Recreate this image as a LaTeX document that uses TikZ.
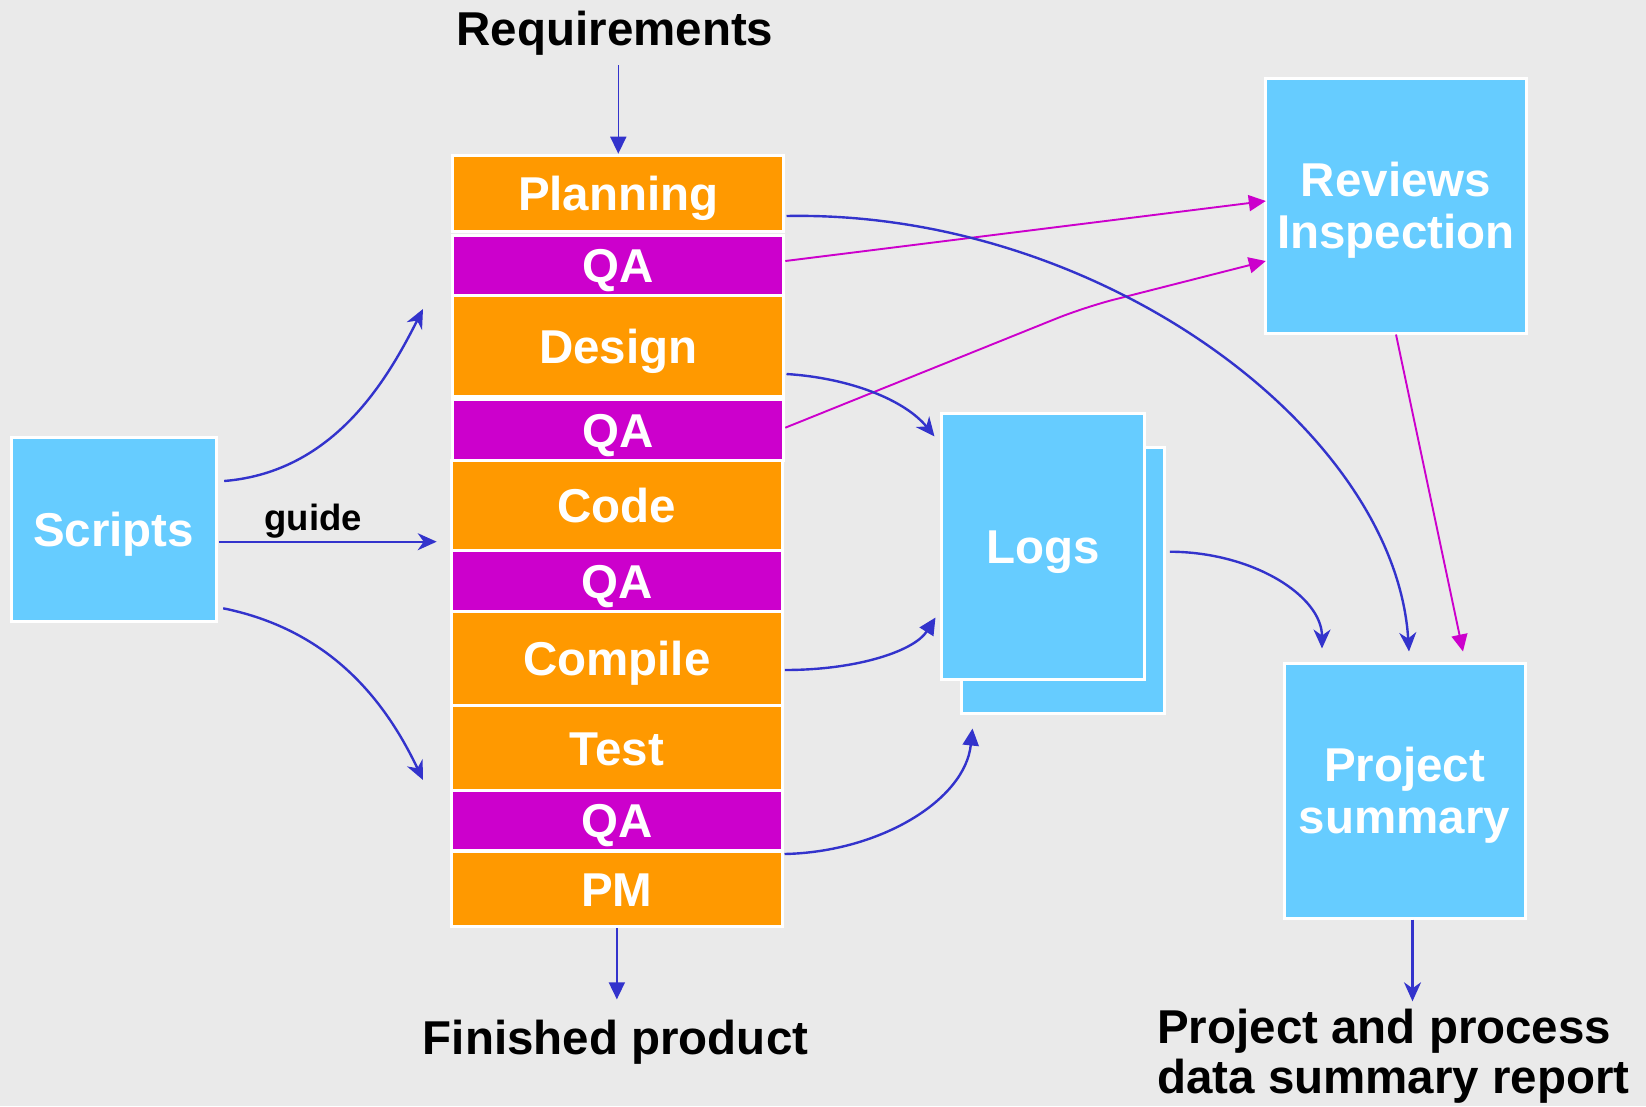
\documentclass[tikz,border=0pt]{standalone}
\usepackage{fontspec}
\setmainfont{Liberation Sans}
\usetikzlibrary{arrows.meta,calc}

\definecolor{paper}{HTML}{EAEAEA}
\definecolor{stageorange}{HTML}{FF9900}
\definecolor{qamagenta}{HTML}{CC00CC}
\definecolor{skyblue}{HTML}{66CCFF}
\definecolor{flowblue}{HTML}{3333CC}

\begin{document}
\begin{tikzpicture}[x=1pt,y=-1pt,
  box/.style={rectangle, draw=white, line width=3pt, inner sep=0pt, text=white,
    font=\fontsize{47.5}{52}\selectfont\bfseries},
  oneline/.style={text height=34pt, text depth=0pt},
  twoline/.style={align=center, text height=86pt, text depth=0pt},
  stage/.style={box, oneline, fill=stageorange},
  qa/.style={box, oneline, fill=qamagenta},
  store/.style={box, fill=skyblue},
  caption/.style={inner sep=0pt, text=black, font=\fontsize{47.5}{50}\selectfont\bfseries},
  blueline/.style={draw=flowblue, line width=2.4pt},
  thinblue/.style={draw=flowblue, line width=1.6pt},
  magline/.style={draw=qamagenta, line width=1.9pt},
  barb/.style={-{Stealth[length=19pt,width=17pt,inset=6pt]}},
  tri/.style={-{Triangle[length=17pt,width=16pt]}}
]
\path[use as bounding box, fill=paper] (0,0) rectangle (1646,1106);

% process stack
\node[stage, minimum width=331pt, minimum height=76.3pt]  (plan)    at (618.3,193.35) {Planning};
\node[qa,    minimum width=331pt, minimum height=60pt]    (qa1)     at (618.3,265.5)  {QA};
\node[stage, minimum width=331pt, minimum height=100.7pt] (design)  at (618.3,346.15) {Design};
\node[qa,    minimum width=331pt, minimum height=61pt]    (qa2)     at (618.3,430)    {QA};
\node[stage, minimum width=331.3pt, minimum height=90.3pt] (code)   at (616.85,505.35) {Code};
\node[qa,    minimum width=331.3pt, minimum height=60.7pt] (qa3)    at (616.85,581.15) {QA};
\node[stage, minimum width=331.3pt, minimum height=94.3pt] (compile) at (616.85,658.65) {Compile};
\node[stage, minimum width=331.3pt, minimum height=84.4pt] (test)   at (616.85,748)   {Test};
\node[qa,    minimum width=331.3pt, minimum height=60.3pt] (qa4)    at (616.85,820.65) {QA};
\node[stage, minimum width=331.3pt, minimum height=75pt]   (pm)     at (616.85,889)   {PM};

% side boxes
\node[store, oneline, minimum width=205.3pt, minimum height=184pt] (scripts) at (113.65,529.7) {Scripts};
\node[store, minimum width=203.7pt, minimum height=266.7pt] (logsb) at (1062.85,580.35) {};
\node[store, oneline, minimum width=203.7pt, minimum height=266.7pt] (logs) at (1042.85,546.35) {Logs};
\node[store, twoline, minimum width=260.6pt, minimum height=254.3pt] (rev) at (1396,205.85) {Reviews\\Inspection};
\node[store, twoline, minimum width=241pt, minimum height=254.3pt] (proj) at (1404.5,790.85) {Project\\summary};

% captions
\node[caption, anchor=base] (req) at (615,45) {Requirements};
\node[caption, anchor=base] (fin) at (615.6,1054) {Finished product};
\node[caption, anchor=north west, align=left] (report) at (1157,1009.3) {Project and process\\data summary report};
\node[caption, anchor=base, font=\fontsize{36.5}{40}\selectfont\bfseries] (guidetxt) at (313.3,530) {guide};

% free ends of the script arrows
\coordinate (sUp) at (423,309);
\coordinate (sGuide) at (436.7,541.7);
\coordinate (sDown) at (423,780);
\coordinate (pjout) at ($(proj.south)+(8,0)$);

% inputs and outputs of the stack
\draw[thinblue, tri, shorten <=10pt] (plan.north |- req.south) -- (plan.north);
\draw[thinblue, tri, shorten >=20pt] (pm.south) -- (pm.south |- fin.north);
\draw[blueline, barb, shorten >=8pt] (pjout) -- (pjout |- report.north);

% scripts guide the process
\draw[blueline, barb] ($(scripts.east)+(6.4,-48.7)$) .. controls (335,472) and (388,378) .. (sUp);
\draw[blueline, barb] ($(scripts.east)+(1,12)$) -- (sGuide);
\draw[blueline, barb] ($(scripts.east)+(5.4,78.6)$) .. controls (330,630) and (385,700) .. (sDown);

% QA feeds reviews and inspections
\draw[magline, tri] ($(qa1.east)+(0,-4.5)$) -- ($(rev.west)+(1.6,-4.85)$);
\draw[magline, tri, rounded corners=30pt] ($(qa2.east)+(0,-2.3)$) -- (1085,307) -- ($(rev.west)+(1.6,55.15)$);
\draw[magline, tri] (rev.south) -- ($(proj.north)+(58.5,-10.7)$);

% data logged during development
\draw[blueline, barb] ($(design.east)+(1.2,27.85)$) .. controls (850,378) and (905,400) .. ($(logs.north west)+(-5,25)$);
\draw[blueline, tri] ($(compile.east)+(0.8,11.35)$) .. controls (860,670) and (915,650) .. ($(logs.south west)+(-4,-63.7)$);
\draw[blueline, tri] ($(qa4.south east)+(0.5,1.7)$) .. controls (880,852) and (965,800) .. ($(logsb.south west)+(13,13.3)$);

% summary of the project
\draw[blueline, barb] ($(plan.east)+(1.2,22.65)$) .. controls (1100,210) and (1395,430) .. ($(proj.north)+(4.5,-10.7)$);
\draw[blueline, barb] ($(logsb.east)+(3.6,-28.65)$) .. controls (1253,552) and (1322,596) .. ($(proj.north)+(-82.5,-13.7)$);
\end{tikzpicture}
\end{document}
